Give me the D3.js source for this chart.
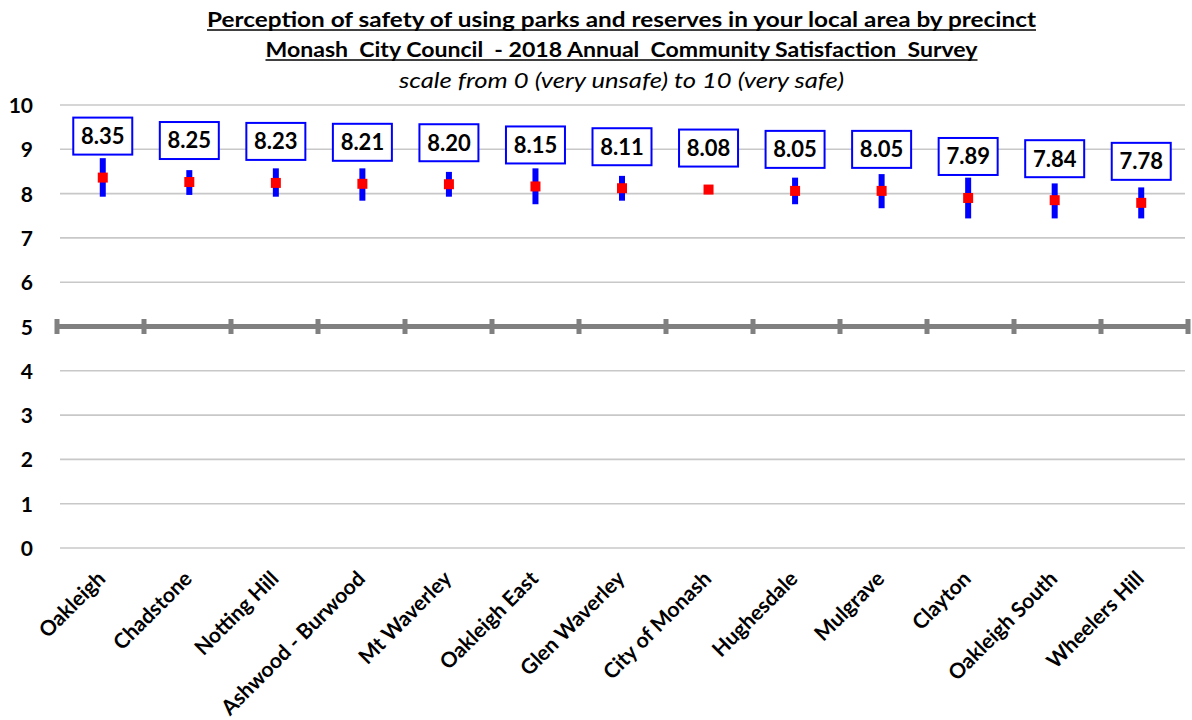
<!DOCTYPE html>
<html><head><meta charset="utf-8">
<script src="https://cdn.jsdelivr.net/npm/d3@7"></script>
<style>body{margin:0;background:#fff}</style>
</head><body><svg id="c" width="1192" height="720"></svg>
<script>
const categories = ["Oakleigh","Chadstone","Notting Hill","Ashwood - Burwood","Mt Waverley","Oakleigh East","Glen Waverley","City of Monash","Hughesdale","Mulgrave","Clayton","Oakleigh South","Wheelers Hill"];
const means = [8.35,8.25,8.23,8.21,8.20,8.15,8.11,8.08,8.05,8.05,7.89,7.84,7.78];
const lower = [7.93,7.97,7.93,7.84,7.93,7.76,7.84,7.99,7.76,7.67,7.44,7.44,7.44];
const upper = [8.80,8.53,8.57,8.57,8.49,8.57,8.40,8.17,8.36,8.44,8.36,8.23,8.14];
const yTicks = [0,1,2,3,4,5,6,7,8,9,10];
const referenceValue = 5;
const titleLines = ["Perception of safety of using parks and reserves in your local area by precinct",
                    "Monash  City Council  - 2018 Annual  Community Satisfaction  Survey"];
const subtitle = "scale from 0 (very unsafe) to 10 (very safe)";

const data = categories.map((c,i)=>({c, m:means[i], lo:lower[i], hi:upper[i]}));
const svg = d3.select("#c");
const FONT = "Lato, 'Open Sans', sans-serif";
const x = d3.scaleBand().domain(categories).range([59.5,1184.5]);
const y = d3.scaleLinear().domain([0,10]).range([548,105]);
const refScale = d3.scaleLinear().domain([0,categories.length]).range([57,1188]);

// gridlines
svg.append("g").selectAll("line").data(yTicks).join("line")
  .attr("x1",60).attr("x2",1185)
  .attr("y1",d=>y(d)).attr("y2",d=>y(d))
  .attr("stroke","#c8c8c8").attr("stroke-width",1.6);

// reference line at 5
const ref = svg.append("g");
ref.append("line").attr("x1",refScale(0)).attr("x2",refScale(categories.length))
  .attr("y1",y(referenceValue)).attr("y2",y(referenceValue))
  .attr("stroke","#808080").attr("stroke-width",5);
ref.selectAll("rect").data(d3.range(categories.length+1)).join("rect")
  .attr("x",d=>refScale(d)-2.5).attr("width",5)
  .attr("y",y(referenceValue)-7.5).attr("height",15)
  .attr("fill","#808080");

// y axis
const yAxis = svg.append("g").attr("transform","translate(40,0)")
  .call(d3.axisLeft(y).tickValues(yTicks).tickSize(0).tickPadding(7).tickFormat(d3.format("d")));
yAxis.select(".domain").remove();
yAxis.selectAll("text").attr("font-family",FONT).attr("font-weight","bold")
  .attr("font-size",21).attr("fill","#000").attr("dy","0.36em");

// x axis labels
const xAxis = svg.append("g").attr("transform",`translate(0,${y(0)})`)
  .call(d3.axisBottom(x).tickSize(0));
xAxis.select(".domain").remove();
const xt = xAxis.selectAll("text").attr("font-family",FONT).attr("font-weight","bold")
  .attr("fill","#000").attr("font-size",18)
  .attr("x",0).attr("y",0).attr("dy",0).style("text-anchor","end")
  .attr("transform","translate(4,32) rotate(-45)");
{
  const node = xt.filter(d=>d==="Wheelers Hill").node();
  const w = node.getComputedTextLength();
  xt.attr("font-size", 18*127/w);
}

// error bars
svg.append("g").selectAll("rect").data(data).join("rect")
  .attr("x",d=>x(d.c)+x.bandwidth()/2-3).attr("width",6)
  .attr("y",d=>y(d.hi)).attr("height",d=>y(d.lo)-y(d.hi))
  .attr("fill","#0000ff");

// mean markers
svg.append("g").selectAll("rect").data(data).join("rect")
  .attr("x",d=>x(d.c)+x.bandwidth()/2-5).attr("width",10)
  .attr("y",d=>y(d.m)-5.5).attr("height",10)
  .attr("fill","#ff0000");

// value labels
const lab = svg.append("g").selectAll("g").data(data).join("g")
  .attr("transform",d=>`translate(${x(d.c)+x.bandwidth()/2},${y(d.m)-42})`);
lab.append("rect").attr("x",-29.5).attr("y",-18.5).attr("width",59).attr("height",37)
  .attr("fill","#fff").attr("stroke","#0000ff").attr("stroke-width",2);
lab.append("text").text(d=>d3.format(".2f")(d.m))
  .attr("text-anchor","middle").attr("dy","0.36em")
  .attr("font-family",FONT).attr("font-weight","bold").attr("font-size",22).attr("fill","#000");

// titles
const cx = 621.5;
function title(txt, yy, width, opts){
  const t = svg.append("text").attr("x",cx).attr("y",yy).attr("text-anchor","middle")
    .attr("font-family",FONT).attr("font-size",opts.size).attr("fill","#000")
    .attr("font-weight",opts.bold?"bold":"normal").attr("font-style",opts.italic?"italic":"normal")
    .style("white-space","pre").text(txt)
    .attr("textLength",width).attr("lengthAdjust","spacingAndGlyphs");
  if(opts.underline){
    svg.append("line").attr("x1",cx-width/2).attr("x2",cx+width/2)
      .attr("y1",yy+3).attr("y2",yy+3).attr("stroke","#000").attr("stroke-width",1.5);
  }
  return t;
}
title(titleLines[0], 27, 829, {size:21, bold:true, underline:true});
title(titleLines[1], 57, 712, {size:21, bold:true, underline:true});
title(subtitle, 88, 445, {size:22, italic:true});
</script></body></html>
